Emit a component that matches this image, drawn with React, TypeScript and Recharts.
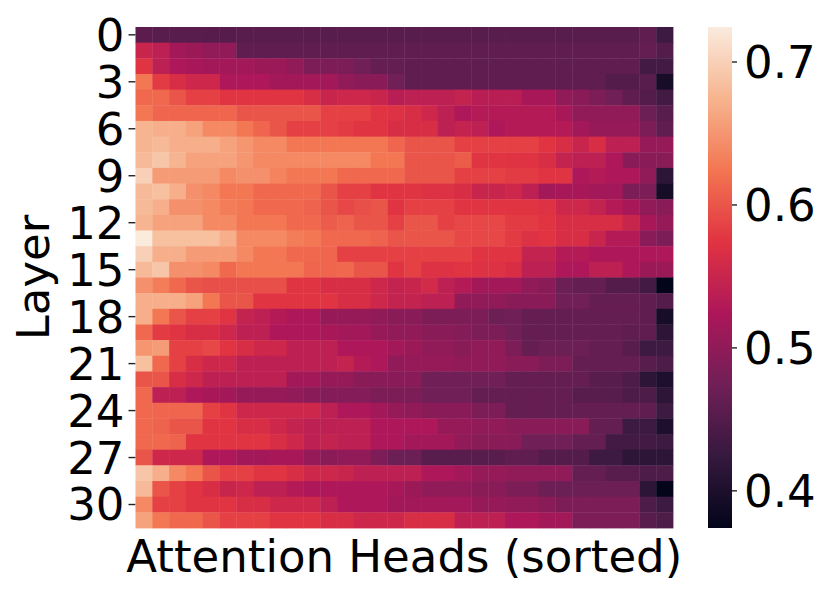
import React from 'react';
import { ScatterChart, Scatter, XAxis, YAxis, ReferenceArea } from 'recharts';

// mean score per (layer, head), heads sorted within each layer
const layer0 = [0.457, 0.455, 0.455, 0.455, 0.453, 0.453, 0.455, 0.455, 0.455, 0.455, 0.455, 0.455, 0.455, 0.455, 0.455, 0.455, 0.455, 0.455, 0.455, 0.455, 0.455, 0.455, 0.455, 0.455, 0.455, 0.455, 0.455, 0.455, 0.455, 0.455, 0.46, 0.43];
const layer1 = [0.55, 0.54, 0.515, 0.51, 0.5, 0.5, 0.46, 0.46, 0.46, 0.46, 0.46, 0.46, 0.46, 0.46, 0.46, 0.46, 0.46, 0.46, 0.46, 0.46, 0.46, 0.46, 0.46, 0.46, 0.46, 0.46, 0.46, 0.46, 0.46, 0.46, 0.465, 0.45];
const layer2 = [0.575, 0.54, 0.525, 0.52, 0.515, 0.515, 0.515, 0.51, 0.51, 0.5, 0.485, 0.485, 0.485, 0.475, 0.465, 0.465, 0.46, 0.46, 0.46, 0.46, 0.46, 0.46, 0.46, 0.46, 0.46, 0.46, 0.46, 0.46, 0.46, 0.46, 0.435, 0.435];
const layer3 = [0.625, 0.58, 0.565, 0.555, 0.555, 0.525, 0.525, 0.525, 0.515, 0.515, 0.515, 0.515, 0.5, 0.495, 0.495, 0.475, 0.46, 0.46, 0.46, 0.46, 0.46, 0.46, 0.46, 0.46, 0.46, 0.46, 0.46, 0.46, 0.45, 0.45, 0.455, 0.395];
const layer4 = [0.615, 0.615, 0.6, 0.585, 0.585, 0.575, 0.575, 0.575, 0.575, 0.575, 0.565, 0.55, 0.555, 0.555, 0.55, 0.535, 0.54, 0.54, 0.54, 0.545, 0.535, 0.535, 0.535, 0.52, 0.52, 0.5, 0.495, 0.485, 0.475, 0.46, 0.45, 0.435];
const layer5 = [0.625, 0.612, 0.612, 0.612, 0.612, 0.612, 0.6, 0.6, 0.6, 0.6, 0.6, 0.585, 0.585, 0.585, 0.575, 0.57, 0.565, 0.555, 0.54, 0.525, 0.53, 0.53, 0.53, 0.53, 0.53, 0.52, 0.5, 0.5, 0.5, 0.5, 0.47, 0.455];
const layer6 = [0.675, 0.67, 0.67, 0.66, 0.64, 0.64, 0.625, 0.612, 0.6, 0.585, 0.585, 0.585, 0.58, 0.575, 0.575, 0.565, 0.565, 0.565, 0.54, 0.545, 0.54, 0.525, 0.53, 0.53, 0.53, 0.53, 0.515, 0.505, 0.505, 0.505, 0.485, 0.46];
const layer7 = [0.675, 0.68, 0.67, 0.67, 0.67, 0.66, 0.65, 0.64, 0.64, 0.625, 0.625, 0.625, 0.625, 0.625, 0.625, 0.612, 0.6, 0.6, 0.6, 0.585, 0.585, 0.585, 0.585, 0.585, 0.575, 0.565, 0.55, 0.565, 0.54, 0.54, 0.505, 0.505];
const layer8 = [0.68, 0.69, 0.675, 0.66, 0.66, 0.66, 0.65, 0.64, 0.64, 0.64, 0.64, 0.64, 0.64, 0.64, 0.625, 0.625, 0.6, 0.6, 0.6, 0.605, 0.575, 0.575, 0.572, 0.572, 0.565, 0.545, 0.54, 0.54, 0.525, 0.495, 0.495, 0.495];
const layer9 = [0.7, 0.655, 0.655, 0.655, 0.655, 0.64, 0.645, 0.645, 0.635, 0.625, 0.625, 0.625, 0.615, 0.615, 0.615, 0.615, 0.6, 0.6, 0.6, 0.585, 0.585, 0.585, 0.58, 0.58, 0.575, 0.575, 0.525, 0.53, 0.525, 0.525, 0.5, 0.415];
const layer10 = [0.68, 0.685, 0.67, 0.645, 0.64, 0.625, 0.625, 0.615, 0.615, 0.615, 0.615, 0.6, 0.585, 0.585, 0.575, 0.575, 0.575, 0.57, 0.57, 0.565, 0.55, 0.55, 0.555, 0.54, 0.515, 0.52, 0.52, 0.515, 0.515, 0.485, 0.485, 0.395];
const layer11 = [0.68, 0.67, 0.645, 0.645, 0.64, 0.63, 0.625, 0.615, 0.615, 0.615, 0.61, 0.6, 0.59, 0.595, 0.6, 0.575, 0.585, 0.585, 0.585, 0.575, 0.575, 0.575, 0.575, 0.575, 0.57, 0.555, 0.555, 0.545, 0.53, 0.52, 0.5, 0.495];
const layer12 = [0.675, 0.66, 0.66, 0.66, 0.64, 0.64, 0.625, 0.625, 0.625, 0.615, 0.615, 0.605, 0.61, 0.6, 0.6, 0.585, 0.6, 0.6, 0.585, 0.59, 0.59, 0.59, 0.58, 0.58, 0.575, 0.565, 0.565, 0.565, 0.565, 0.55, 0.52, 0.505];
const layer13 = [0.725, 0.685, 0.685, 0.685, 0.685, 0.67, 0.64, 0.64, 0.64, 0.63, 0.625, 0.615, 0.615, 0.615, 0.61, 0.6, 0.6, 0.6, 0.6, 0.59, 0.59, 0.59, 0.58, 0.57, 0.575, 0.565, 0.565, 0.55, 0.53, 0.53, 0.495, 0.485];
const layer14 = [0.7, 0.67, 0.67, 0.655, 0.655, 0.655, 0.64, 0.625, 0.625, 0.615, 0.615, 0.612, 0.585, 0.585, 0.585, 0.585, 0.585, 0.585, 0.585, 0.585, 0.575, 0.575, 0.575, 0.545, 0.545, 0.53, 0.53, 0.525, 0.525, 0.525, 0.525, 0.525];
const layer15 = [0.68, 0.69, 0.645, 0.645, 0.64, 0.615, 0.625, 0.625, 0.625, 0.625, 0.612, 0.612, 0.615, 0.6, 0.6, 0.575, 0.585, 0.57, 0.57, 0.575, 0.57, 0.57, 0.565, 0.54, 0.54, 0.525, 0.525, 0.54, 0.54, 0.525, 0.51, 0.51];
const layer16 = [0.645, 0.63, 0.615, 0.6, 0.595, 0.595, 0.595, 0.595, 0.595, 0.575, 0.575, 0.565, 0.565, 0.565, 0.555, 0.545, 0.55, 0.56, 0.54, 0.53, 0.515, 0.515, 0.515, 0.5, 0.495, 0.47, 0.465, 0.465, 0.45, 0.45, 0.435, 0.374];
const layer17 = [0.67, 0.67, 0.67, 0.66, 0.625, 0.6, 0.6, 0.575, 0.575, 0.575, 0.575, 0.575, 0.565, 0.565, 0.555, 0.545, 0.545, 0.54, 0.54, 0.5, 0.5, 0.5, 0.495, 0.495, 0.495, 0.475, 0.475, 0.465, 0.465, 0.465, 0.46, 0.45];
const layer18 = [0.67, 0.625, 0.6, 0.585, 0.585, 0.575, 0.545, 0.54, 0.53, 0.525, 0.525, 0.505, 0.505, 0.505, 0.5, 0.495, 0.495, 0.485, 0.485, 0.485, 0.485, 0.47, 0.475, 0.465, 0.465, 0.465, 0.465, 0.465, 0.465, 0.465, 0.46, 0.395];
const layer19 = [0.615, 0.58, 0.575, 0.565, 0.565, 0.555, 0.54, 0.54, 0.525, 0.525, 0.525, 0.52, 0.515, 0.515, 0.505, 0.5, 0.5, 0.495, 0.495, 0.49, 0.485, 0.485, 0.475, 0.465, 0.465, 0.465, 0.465, 0.465, 0.465, 0.46, 0.46, 0.415];
const layer20 = [0.65, 0.655, 0.585, 0.585, 0.59, 0.575, 0.565, 0.555, 0.555, 0.54, 0.54, 0.54, 0.525, 0.525, 0.525, 0.515, 0.51, 0.5, 0.5, 0.495, 0.5, 0.5, 0.485, 0.465, 0.47, 0.47, 0.47, 0.465, 0.465, 0.455, 0.43, 0.43];
const layer21 = [0.685, 0.615, 0.585, 0.565, 0.555, 0.555, 0.54, 0.54, 0.54, 0.54, 0.54, 0.54, 0.545, 0.53, 0.525, 0.5, 0.505, 0.505, 0.505, 0.5, 0.5, 0.5, 0.495, 0.495, 0.485, 0.485, 0.465, 0.465, 0.465, 0.465, 0.455, 0.445];
const layer22 = [0.6, 0.6, 0.565, 0.555, 0.54, 0.54, 0.54, 0.54, 0.54, 0.515, 0.515, 0.505, 0.505, 0.495, 0.495, 0.495, 0.495, 0.475, 0.475, 0.475, 0.475, 0.475, 0.465, 0.465, 0.465, 0.465, 0.465, 0.455, 0.455, 0.445, 0.415, 0.4];
const layer23 = [0.615, 0.54, 0.54, 0.525, 0.52, 0.515, 0.505, 0.505, 0.505, 0.5, 0.495, 0.49, 0.49, 0.49, 0.485, 0.485, 0.485, 0.475, 0.475, 0.475, 0.465, 0.465, 0.465, 0.465, 0.465, 0.465, 0.455, 0.455, 0.455, 0.445, 0.445, 0.415];
const layer24 = [0.615, 0.612, 0.612, 0.612, 0.585, 0.575, 0.555, 0.555, 0.555, 0.555, 0.555, 0.54, 0.525, 0.525, 0.515, 0.505, 0.5, 0.495, 0.495, 0.495, 0.485, 0.485, 0.465, 0.465, 0.465, 0.465, 0.465, 0.465, 0.465, 0.465, 0.46, 0.43];
const layer25 = [0.615, 0.61, 0.6, 0.6, 0.575, 0.575, 0.565, 0.565, 0.555, 0.545, 0.54, 0.54, 0.54, 0.54, 0.525, 0.525, 0.525, 0.525, 0.505, 0.505, 0.5, 0.5, 0.495, 0.495, 0.495, 0.495, 0.495, 0.465, 0.465, 0.43, 0.43, 0.4];
const layer26 = [0.615, 0.615, 0.61, 0.575, 0.575, 0.575, 0.575, 0.575, 0.565, 0.555, 0.54, 0.545, 0.54, 0.54, 0.525, 0.525, 0.515, 0.515, 0.515, 0.5, 0.495, 0.495, 0.495, 0.475, 0.475, 0.475, 0.465, 0.465, 0.435, 0.435, 0.435, 0.43];
const layer27 = [0.6, 0.555, 0.555, 0.555, 0.525, 0.525, 0.515, 0.515, 0.52, 0.52, 0.505, 0.495, 0.5, 0.5, 0.485, 0.47, 0.47, 0.455, 0.455, 0.455, 0.455, 0.455, 0.46, 0.46, 0.45, 0.45, 0.45, 0.43, 0.43, 0.415, 0.415, 0.415];
const layer28 = [0.69, 0.67, 0.64, 0.625, 0.6, 0.585, 0.585, 0.575, 0.575, 0.565, 0.555, 0.555, 0.55, 0.54, 0.54, 0.54, 0.54, 0.525, 0.525, 0.515, 0.505, 0.505, 0.5, 0.5, 0.5, 0.5, 0.465, 0.465, 0.455, 0.455, 0.445, 0.445];
const layer29 = [0.68, 0.6, 0.585, 0.575, 0.565, 0.55, 0.555, 0.54, 0.54, 0.53, 0.525, 0.525, 0.525, 0.525, 0.525, 0.52, 0.51, 0.5, 0.5, 0.5, 0.495, 0.495, 0.485, 0.485, 0.47, 0.47, 0.47, 0.47, 0.47, 0.47, 0.415, 0.375];
const layer30 = [0.64, 0.585, 0.585, 0.575, 0.575, 0.575, 0.565, 0.565, 0.555, 0.555, 0.555, 0.54, 0.525, 0.525, 0.525, 0.515, 0.515, 0.515, 0.515, 0.515, 0.505, 0.505, 0.5, 0.5, 0.495, 0.485, 0.485, 0.485, 0.485, 0.485, 0.445, 0.43];
const layer31 = [0.66, 0.625, 0.615, 0.615, 0.6, 0.585, 0.585, 0.585, 0.575, 0.575, 0.575, 0.565, 0.565, 0.555, 0.555, 0.555, 0.565, 0.565, 0.565, 0.54, 0.54, 0.54, 0.525, 0.525, 0.515, 0.515, 0.485, 0.485, 0.485, 0.485, 0.455, 0.445];

const layers = [
  layer0, layer1, layer2, layer3, layer4, layer5, layer6, layer7,
  layer8, layer9, layer10, layer11, layer12, layer13, layer14, layer15,
  layer16, layer17, layer18, layer19, layer20, layer21, layer22, layer23,
  layer24, layer25, layer26, layer27, layer28, layer29, layer30, layer31,
];

const layerTicks = [0, 3, 6, 9, 12, 15, 18, 21, 24, 27, 30];
const colorbarTicks = [0.4, 0.5, 0.6, 0.7];
const VMIN = 0.374;
const VMAX = 0.7245;

// seaborn "rocket" colormap, sampled
const rocketStops: [number, string][] = [
  [0, '#03051a'],
  [1 / 7, '#35193e'],
  [2 / 7, '#701f57'],
  [3 / 7, '#ad1759'],
  [4 / 7, '#e13342'],
  [5 / 7, '#f37651'],
  [6 / 7, '#f6b48f'],
  [1, '#faebdd'],
];

const hexToRgb = (h: string) => [1, 3, 5].map((i) => parseInt(h.slice(i, i + 2), 16));

const rocket = (v: number) => {
  const t = Math.max(0, Math.min(1, (v - VMIN) / (VMAX - VMIN)));
  for (let i = 1; i < rocketStops.length; i++) {
    const [t1, c1] = rocketStops[i];
    if (t <= t1) {
      const [t0, c0] = rocketStops[i - 1];
      const f = (t - t0) / (t1 - t0);
      const a = hexToRgb(c0);
      const b = hexToRgb(c1);
      const rgb = a.map((x, k) => Math.round(x + (b[k] - x) * f));
      return `rgb(${rgb.join(',')})`;
    }
  }
  return rocketStops[rocketStops.length - 1][1];
};

const cells = layers.flatMap((row, r) => row.map((v, c) => ({ head: c + 0.5, layer: r + 0.5, v })));

const W = 831;
const H = 594;
const PLOT_LEFT = 135.5;
const PLOT_RIGHT = 673;
const PLOT_TOP = 27;
const PLOT_BOTTOM = 528;
const cellW = (PLOT_RIGHT - PLOT_LEFT) / 32;
const cellH = (PLOT_BOTTOM - PLOT_TOP) / 32;

const FONT = '"DejaVu Sans", sans-serif';

const Cell = (props: any) => {
  const { cx, cy, payload } = props;
  return (
    <rect
      x={cx - cellW / 2}
      y={cy - cellH / 2}
      width={cellW + 0.4}
      height={cellH + 0.4}
      fill={rocket(payload.v)}
    />
  );
};

const LayerLabel = (props: any) => {
  const vb = props.viewBox || { y: PLOT_TOP, height: PLOT_BOTTOM - PLOT_TOP };
  const cy = vb.y + vb.height / 2;
  return (
    <text x={49} y={cy} transform={`rotate(-90, 49, ${cy})`} textAnchor="middle" fontSize={45} fill="#000" fontFamily={FONT}>
      Layer
    </text>
  );
};

export default function App() {
  return (
    <div style={{ position: 'absolute', left: 0, top: 0, width: W, height: H, background: '#fff', fontFamily: FONT }}>
      <div style={{ position: 'absolute', left: 0, top: 0 }}>
        <ScatterChart width={W} height={H} margin={{ top: PLOT_TOP, right: W - PLOT_RIGHT, bottom: 0, left: 0 }}>
          <XAxis
            type="number"
            dataKey="head"
            domain={[0, 32]}
            tick={false}
            tickLine={false}
            axisLine={false}
            height={H - PLOT_BOTTOM}
            label={{ value: 'Attention Heads (sorted)', position: 'insideBottom', offset: 22, fontSize: 45, fill: '#000' }}
          />
          <YAxis
            type="number"
            dataKey="layer"
            domain={[0, 32]}
            reversed
            width={PLOT_LEFT}
            ticks={layerTicks.map((l) => l + 0.5)}
            interval={0}
            tickFormatter={(v: number) => String(v - 0.5)}
            tick={{ fontSize: 45, fill: '#000' }}
            tickSize={7}
            tickMargin={4}
            tickLine={{ stroke: '#222', strokeWidth: 1.4 }}
            axisLine={false}
            label={<LayerLabel />}
          />
          <Scatter data={cells} shape={<Cell />} isAnimationActive={false} />
        </ScatterChart>
      </div>

      <div style={{ position: 'absolute', left: 708, top: 0 }}>
        <ScatterChart width={123} height={H} margin={{ top: PLOT_TOP, right: 0, bottom: H - PLOT_BOTTOM, left: 0 }}>
          <defs>
            <linearGradient id="rocketBar" x1="0" y1="1" x2="0" y2="0">
              {rocketStops.map(([t, c]) => (
                <stop key={t} offset={t} stopColor={c} />
              ))}
            </linearGradient>
          </defs>
          <XAxis type="number" dataKey="x" domain={[0, 1]} hide />
          <YAxis
            type="number"
            dataKey="y"
            orientation="right"
            domain={[VMIN, VMAX]}
            allowDataOverflow
            ticks={colorbarTicks}
            interval={0}
            tickFormatter={(v: number) => v.toFixed(1)}
            width={99}
            tick={{ fontSize: 45, fill: '#000' }}
            tickSize={5}
            tickMargin={7}
            tickLine={{ stroke: '#222', strokeWidth: 1.4 }}
            axisLine={false}
          />
          <ReferenceArea x1={0} x2={1} y1={VMIN} y2={VMAX} fill="url(#rocketBar)" fillOpacity={1} stroke="none" ifOverflow="visible" />
          <Scatter data={[{ x: 0.5, y: 0.5 }]} shape={() => <g />} isAnimationActive={false} />
        </ScatterChart>
      </div>
    </div>
  );
}
